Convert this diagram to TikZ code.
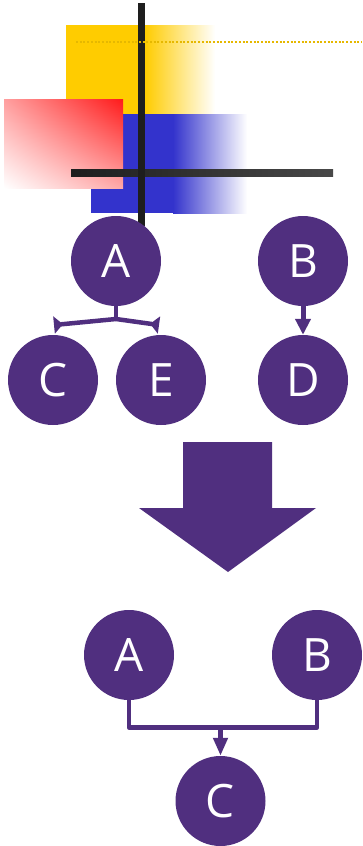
\documentclass[tikz,border=0pt]{standalone}
\usepackage{fontspec}
\setmainfont{Open Sans}
\usetikzlibrary{arrows.meta,shadings}
\definecolor{plum}{RGB}{80,47,127}
\definecolor{sun}{RGB}{255,204,0}
\definecolor{gold}{RGB}{230,184,0}
\definecolor{cobalt}{RGB}{51,51,204}
\definecolor{scarlet}{RGB}{255,26,26}
\definecolor{ink}{RGB}{30,30,30}
\definecolor{inklight}{RGB}{72,72,72}
\begin{document}
\begin{tikzpicture}[x=1pt,y=-1pt,
  dot/.style={circle, fill=plum, inner sep=0pt, minimum size=90pt,
              text=white, font=\fontsize{46}{46}\selectfont},
  link/.style={draw=plum, line width=4.5pt, line join=round},
  flare/.style={-{Triangle[reversed,width=17pt,length=9pt]}}
]
\useasboundingbox (0,0) rectangle (362,846);

% decorative corner: fading blocks and crossing bars
\fill[sun] (66,25) rectangle (145,114);
\shade[left color=sun, right color=white] (145,25) rectangle (215,114);
\fill[cobalt] (91,114) rectangle (173,213);
\shade[left color=cobalt, right color=white] (173,114) rectangle (247,213);
\shade[upper left=scarlet!42, upper right=scarlet, lower left=white, lower right=scarlet!38]
  (4,99) rectangle (123,188);
\shade[left color=ink, right color=inklight] (71,169) rectangle (333,176);
\fill[ink] (138,3) rectangle (145,226);
\draw[gold, line width=2pt, dash pattern=on 2pt off 1.7pt] (76,42) -- (362,42);

% upper pair of trees
\node[dot] (A1) at (116,261) {A};
\node[dot] (B1) at (303,261) {B};
\node[dot] (C1) at (53,380) {C};
\node[dot] (E1) at (161,380) {E};
\node[dot] (D1) at (303,380) {D};
\coordinate (fork) at (116,319);
\coordinate (endC) at (54,325);
\coordinate (endE) at (159,325);
\draw[link] (A1.south) -- (fork);
\draw[link, flare] (fork) -- (endC);
\draw[link, flare] (fork) -- (endE);
\draw[link, line width=5pt, -{Triangle[width=15pt,length=16pt]}] (B1.south) -- (D1.north);

% big down arrow
\fill[plum] (183,442) -- (272,442) -- (272,508) -- (316,508) -- (228,572)
  -- (139,508) -- (183,508) -- cycle;

% merged tree
\node[dot] (A2) at (129,655) {A};
\node[dot] (B2) at (317,655) {B};
\node[dot] (C2) at (220.5,801) {C};
\coordinate (join) at (220.5,727.5);
\draw[link, line width=4.5pt] (A2.south) |- (join) -| (B2.south);
\draw[link, line width=4.5pt, -{Triangle[width=14pt,length=18pt]}] (join) -- (C2.north);
\end{tikzpicture}
\end{document}
